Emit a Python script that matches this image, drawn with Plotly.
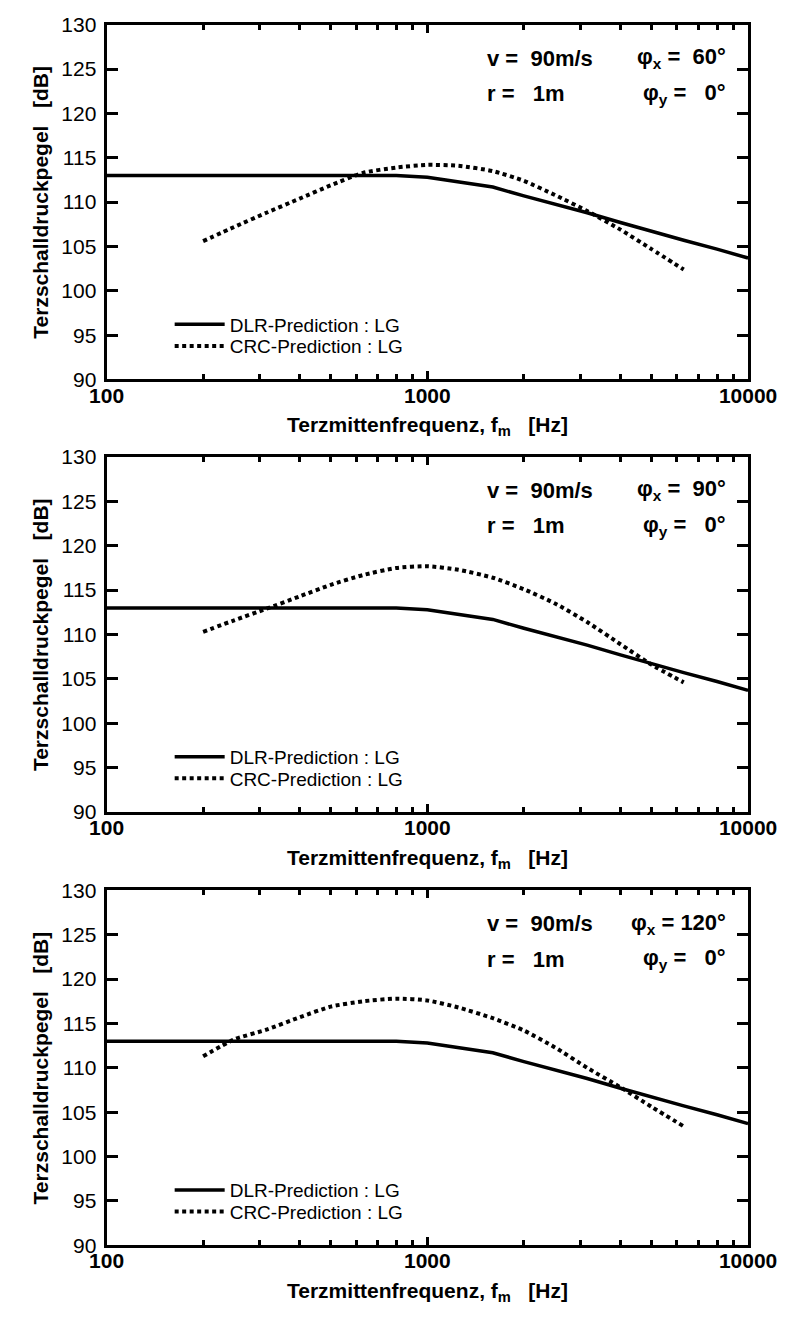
import plotly.graph_objects as go
from plotly.subplots import make_subplots

# ---------------- data ----------------
freq_dlr = [100, 125, 160, 200, 250, 315, 400, 500, 630, 800, 1000, 1250,
            1600, 2000, 2500, 3150, 4000, 5000, 6300, 8000, 10000]
dlr_level = [113.0, 113.0, 113.0, 113.0, 113.0, 113.0, 113.0, 113.0, 113.0,
             113.0, 112.8, 112.3, 111.7, 110.7, 109.8, 108.8, 107.7, 106.7,
             105.7, 104.7, 103.7]

freq_crc = [200, 250, 315, 400, 500, 630, 800, 1000, 1250, 1600, 2000, 2500,
            3150, 4000, 5000, 6300]
crc_phi60 = [105.6, 107.2, 108.8, 110.4, 111.9, 113.3, 113.9, 114.2, 114.1,
             113.5, 112.4, 110.8, 109.0, 106.9, 104.7, 102.4]
crc_phi90 = [110.3, 111.6, 112.9, 114.3, 115.6, 116.7, 117.5, 117.7, 117.3,
             116.4, 115.1, 113.5, 111.4, 108.9, 106.6, 104.6]
crc_phi120 = [111.3, 113.2, 114.3, 115.7, 116.9, 117.5, 117.8, 117.6, 116.8,
              115.6, 114.2, 112.3, 110.0, 107.8, 105.6, 103.4]

phi_x_labels = ["60°", "90°", "120°"]
phi_x_spacing = ["=\u00a0\u00a0", "=\u00a0\u00a0", "=\u00a0"]
crc_sets = [crc_phi60, crc_phi90, crc_phi120]

x_tickvals = [100, 1000, 10000]
x_ticktext = ["100", "1000", "10000"]
x_minor = [200, 300, 400, 500, 600, 700, 800, 900,
           2000, 3000, 4000, 5000, 6000, 7000, 8000, 9000]

dlr_name = "DLR-Prediction : LG"
crc_name = "CRC-Prediction : LG"
x_title = "<b>Terzmittenfrequenz, f<sub>m</sub>\u00a0\u00a0\u00a0[Hz]</b>"
y_title = "<b>Terzschalldruckpegel\u00a0\u00a0\u00a0[dB]</b>"
v_text = "<b>v =\u00a0\u00a090m/s</b>"
r_text = "<b>r =\u00a0\u00a0\u00a01m</b>"
phi_y_text = "<b>φ<sub>y</sub> =\u00a0\u00a0\u00a00°</b>"

# ---------------- layout geometry ----------------
W, H = 811, 1322
left_px, right_px = 94, 775
panel_tops = [13, 453, 894]
panel_h = 361
legend_rows = [305, 327]   # px below panel top

FONT = "Liberation Sans, Arial, Helvetica, sans-serif"

fig = make_subplots(rows=3, cols=1)


def leg_id(n):
    return "legend" if n == 1 else f"legend{n}"


for i in range(3):
    row = i + 1
    fig.add_trace(go.Scatter(x=freq_dlr, y=dlr_level, mode="lines", name=dlr_name,
                             line=dict(color="black", width=3.5),
                             legend=leg_id(2 * i + 1)), row=row, col=1)
    fig.add_trace(go.Scatter(x=freq_crc, y=crc_sets[i], mode="lines", name=crc_name,
                             line=dict(color="black", width=4, dash="4px,3.5px",
                                       shape="spline", smoothing=0.6),
                             legend=leg_id(2 * i + 2)), row=row, col=1)

layout_updates = {}
annotations = []
for i in range(3):
    top = panel_tops[i]
    bot = top + panel_h
    ydom = [1 - bot / H, 1 - top / H]
    xdom = [left_px / W, right_px / W]
    sfx = "" if i == 0 else str(i + 1)
    layout_updates["xaxis" + sfx] = dict(
        type="log", range=[2, 4], domain=xdom,
        tickvals=x_tickvals, ticktext=x_ticktext,
        ticks="inside", ticklen=8, tickwidth=2.5, tickcolor="black",
        showline=True, linecolor="black", linewidth=3, mirror="ticks",
        showgrid=False, zeroline=False,
        tickfont=dict(family=FONT, size=21, color="black", weight="bold"),
        ticklabelstandoff=-5,
        minor=dict(tickvals=x_minor, ticks="inside", ticklen=5, tickwidth=2.5,
                   tickcolor="black", showgrid=False),
    )
    layout_updates["yaxis" + sfx] = dict(
        range=[90, 130], domain=ydom, dtick=5, tick0=90,
        ticks="inside", ticklen=11, tickwidth=3, tickcolor="black",
        showline=True, linecolor="black", linewidth=3, mirror="ticks",
        showgrid=False, zeroline=False,
        tickfont=dict(family=FONT, size=21, color="black"),
        ticklabelstandoff=3,
    )
    for k in range(2):
        layout_updates[leg_id(2 * i + 1 + k)] = dict(
            x=161 / W, y=1 - (top + legend_rows[k]) / H, xanchor="left", yanchor="middle",
            bgcolor="rgba(0,0,0,0)", borderwidth=0, itemwidth=50,
            font=dict(family=FONT, size=19, color="black"),
            itemclick=False,
        )
    xr = "x" + sfx + " domain"
    yr = "y" + sfx + " domain"
    ann_font = dict(family=FONT, size=22, color="black")
    annotations += [
        dict(text=v_text, xref=xr, yref=yr, x=0.59, y=0.906,
             xanchor="left", yanchor="middle", showarrow=False, font=ann_font),
        dict(text=r_text, xref=xr, yref=yr, x=0.59, y=0.806,
             xanchor="left", yanchor="middle", showarrow=False, font=ann_font),
        dict(text=f"<b>φ<sub>x</sub> {phi_x_spacing[i]}{phi_x_labels[i]}</b>", xref=xr, yref=yr,
             x=0.968, y=0.906, xanchor="right", yanchor="middle", showarrow=False,
             font=ann_font),
        dict(text=phi_y_text, xref=xr, yref=yr,
             x=0.968, y=0.806, xanchor="right", yanchor="middle", showarrow=False,
             font=ann_font),
        dict(text=x_title, xref=xr, yref=yr, x=0.5, y=-0.132,
             xanchor="center", yanchor="middle", showarrow=False,
             font=dict(family=FONT, size=21, color="black")),
        dict(text=y_title, xref="paper", yref=yr, x=24 / W, y=0.5, textangle=-90,
             xanchor="center", yanchor="middle", showarrow=False,
             font=dict(family=FONT, size=21, color="black")),
    ]

fig.update_layout(**layout_updates)
fig.update_layout(
    width=W, height=H, margin=dict(l=0, r=0, t=0, b=0),
    paper_bgcolor="white", plot_bgcolor="white",
    font=dict(family=FONT, color="black"),
    annotations=annotations, showlegend=True,
)

fig.write_html("out.html")
